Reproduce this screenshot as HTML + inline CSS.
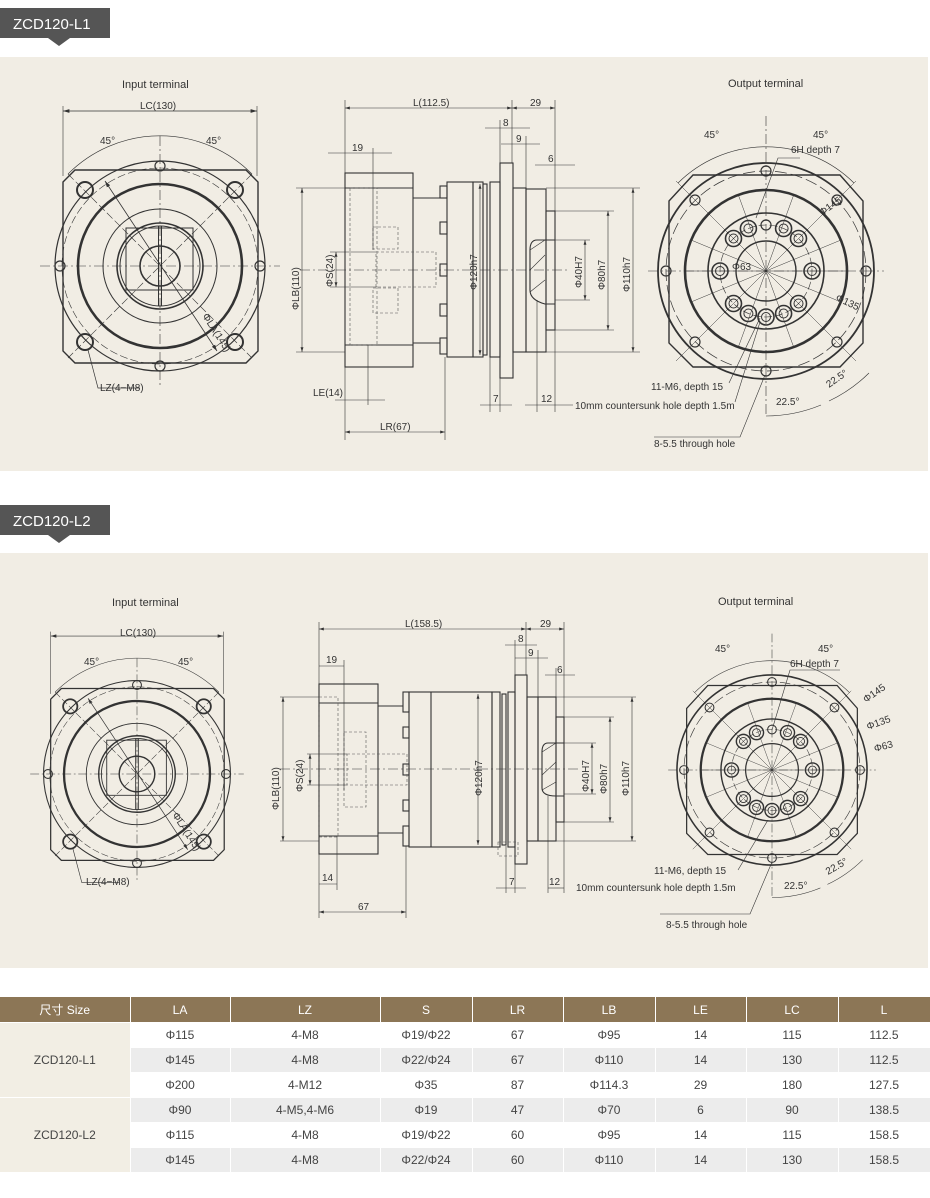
<!DOCTYPE html>
<html><head><meta charset="utf-8"><style>
body{margin:0;width:930px;height:1198px;background:#fff;position:relative;overflow:hidden;font-family:"Liberation Sans","Noto Sans CJK SC",sans-serif}
svg{position:absolute;left:0;top:0}
table{position:absolute;left:0;top:997px;width:930px;border-collapse:collapse;font-size:12px;color:#444;table-layout:fixed}
td,th{height:24px;text-align:center;padding:0;border-right:1px solid #fff;border-bottom:1px solid #fff;font-weight:normal;line-height:14px}
th{background:#8c7656;color:#fff;height:25px}
tr.g td{background:#ececec}
tr td.m,tr.g td.m{background:#f2eee4}
</style></head><body>
<svg width="930" height="997" viewBox="0 0 930 997" font-family="Liberation Sans, sans-serif">
<defs>
<marker id="a" viewBox="0 0 10 6" refX="10" refY="3" markerWidth="8" markerHeight="5" orient="auto-start-reverse"><path d="M0,0L10,3L0,6z" fill="#333"/></marker>
<g id="inp" fill="none" stroke="#333">
 <line x1="-97" y1="-155" x2="97" y2="-155" marker-start="url(#a)" marker-end="url(#a)" stroke-width=".8"/>
 <line x1="-97" y1="-160" x2="-97" y2="-90" stroke-width=".6"/><line x1="97" y1="-160" x2="97" y2="-90" stroke-width=".6"/>
 <path d="M-92,-92 A130,130 0 0 1 92,-92" stroke-width=".6"/>
 <path d="M-97,-84L-85,-96H86L98,-84V85L86,97H-85L-97,85Z" stroke-width="1.4"/>
 <circle r="105" stroke-width="1.2"/><circle r="82" stroke-width="2.6"/><circle r="57" stroke-width="1"/>
 <circle r="43" stroke-width="1.6"/><circle r="40" stroke-width="1"/><circle r="20" stroke-width="1.6"/>
 <path d="M-34,-38H33V24H-34Z" stroke-width="1"/>
 <line x1="-1.5" y1="-40" x2="-1.5" y2="40" stroke-width="1"/><line x1="1.5" y1="-40" x2="1.5" y2="40" stroke-width="1"/>
 <g stroke-width=".6" stroke-dasharray="10,3,2,3"><line x1="-120" y1="0" x2="120" y2="0"/><line x1="0" y1="-130" x2="0" y2="120"/></g>
 <g stroke-width=".6" stroke-dasharray="8,3"><circle r="98"/><line x1="-92" y1="-92" x2="92" y2="92"/><line x1="92" y1="-92" x2="-92" y2="92"/></g>
 <g stroke-width="2"><circle cx="-75" cy="-76" r="8"/><circle cx="75" cy="-76" r="8"/><circle cx="-75" cy="76" r="8"/><circle cx="75" cy="76" r="8"/></g>
 <g stroke-width="1.2"><circle cx="0" cy="-100" r="5"/><circle cx="0" cy="100" r="5"/><circle cx="-100" cy="0" r="5"/><circle cx="100" cy="0" r="5"/></g>
 <line x1="-55" y1="-85" x2="57" y2="85" stroke-width=".8" marker-start="url(#a)" marker-end="url(#a)"/>
 <path d="M-72,84L-62,122H-20" stroke-width=".7"/>
</g>
<g id="outp" fill="none" stroke="#333">
 <path d="M-97,-70L-73,-96H74L97,-70V72L74,96H-73L-97,72Z" stroke-width="1.4"/>
 <circle r="108" stroke-width="1.8"/><circle r="100" stroke-width=".7" stroke-dasharray="12,4"/><circle r="81" stroke-width="2.6"/><circle r="58" stroke-width="1.6"/><circle r="30" stroke-width="1.4"/><circle r="46" stroke-width=".6" stroke-dasharray="8,3"/>
 <g stroke-width=".6" stroke-dasharray="10,3,2,3"><line x1="-118" y1="0" x2="118" y2="0"/><line x1="0" y1="-155" x2="0" y2="145"/></g>
 <g stroke-width=".5"><line x1="-81" y1="0" x2="81" y2="0"/><line x1="-28" y1="-77" x2="28" y2="77"/><line x1="28" y1="-77" x2="-28" y2="77"/><line x1="-57" y1="-57" x2="57" y2="57"/><line x1="57" y1="-57" x2="-57" y2="57"/><line x1="-75" y1="-31" x2="75" y2="31"/><line x1="75" y1="-31" x2="-75" y2="31"/><line x1="-90" y1="-90" x2="90" y2="90"/><line x1="90" y1="-90" x2="-90" y2="90"/></g>
 <path d="M-88,-88A125,125 0 0 1 88,-88" stroke-width=".6"/>
 <g stroke-width="1.2"><circle cx="0" cy="-100" r="5"/><circle cx="0" cy="100" r="5"/><circle cx="-100" cy="0" r="5"/><circle cx="100" cy="0" r="5"/><circle cx="-71" cy="-71" r="5"/><circle cx="71" cy="-71" r="5"/><circle cx="-71" cy="71" r="5"/><circle cx="71" cy="71" r="5"/><circle cx="0" cy="-46" r="5"/></g>
 <g stroke-width="1.6"><circle cx="-17.6" cy="-42.5" r="8"/><circle cx="17.6" cy="-42.5" r="8"/><circle cx="-32.5" cy="-32.5" r="8"/><circle cx="32.5" cy="-32.5" r="8"/><circle cx="-46" cy="0" r="8"/><circle cx="46" cy="0" r="8"/><circle cx="-32.5" cy="32.5" r="8"/><circle cx="32.5" cy="32.5" r="8"/><circle cx="-17.6" cy="42.5" r="8"/><circle cx="17.6" cy="42.5" r="8"/><circle cx="0" cy="46" r="8"/></g>
 <g stroke-width="1"><circle cx="-17.6" cy="-42.5" r="4.5"/><circle cx="17.6" cy="-42.5" r="4.5"/><circle cx="-32.5" cy="-32.5" r="4.5"/><circle cx="32.5" cy="-32.5" r="4.5"/><circle cx="-46" cy="0" r="4.5"/><circle cx="46" cy="0" r="4.5"/><circle cx="-32.5" cy="32.5" r="4.5"/><circle cx="32.5" cy="32.5" r="4.5"/><circle cx="-17.6" cy="42.5" r="4.5"/><circle cx="17.6" cy="42.5" r="4.5"/><circle cx="0" cy="46" r="4.5"/></g>
 <path d="M0,145A145,145 0 0 0 55,134" stroke-width=".6"/><path d="M63,130A145,145 0 0 0 103,102" stroke-width=".6"/>
</g>
</defs>

<rect x="0" y="8" width="110" height="30" fill="#555"/><path d="M48,38H70L59,46Z" fill="#555"/>
<text x="13" y="29" fill="#fff" font-size="15">ZCD120-L1</text>
<rect x="0" y="57" width="928" height="414" fill="#f1ede4"/>
<g fill="#333" font-size="11"><text x="122" y="88">Input terminal</text><text x="728" y="87">Output terminal</text></g>
<use href="#inp" transform="translate(160,266)"/>
<g fill="#333" font-size="10"><text x="140" y="109">LC(130)</text><text x="100" y="144">45°</text><text x="206" y="144">45°</text><text x="100" y="391">LZ(4−M8)</text><text x="0" y="0" transform="translate(202,316) rotate(57)">ΦLA(145)</text></g>
<use href="#outp" transform="translate(766,271)"/>
<g fill="#333" font-size="10"><text x="704" y="138">45°</text><text x="813" y="138">45°</text><text x="791" y="153">6H depth 7</text><text x="732" y="270">Φ63</text><text x="822" y="216" transform="rotate(-35 822 216)">Φ145</text><text x="835" y="300" transform="rotate(25 835 300)">Φ135</text><text x="651" y="390">11-M6, depth 15</text><text x="575" y="409">10mm countersunk hole depth 1.5m</text><text x="654" y="447">8-5.5 through hole</text><text x="776" y="405">22.5°</text><text x="829" y="388" transform="rotate(-35 829 388)">22.5°</text></g>
<g fill="none" stroke="#333" stroke-width=".6"><path d="M756,218L778,158H800"/><path d="M729,383L760,318"/><path d="M735,402L760,322"/><path d="M654,437H740L765,375"/></g>
<g fill="none" stroke="#333" stroke-width="1.1">
 <rect x="345" y="173" width="68" height="194"/><line x1="345" y1="188" x2="413" y2="188"/><line x1="345" y1="345" x2="413" y2="345"/>
 <line x1="413" y1="198" x2="440" y2="198"/><line x1="413" y1="343" x2="440" y2="343"/>
 <rect x="440" y="186" width="7" height="12"/><rect x="440" y="222" width="7" height="12"/><rect x="440" y="264" width="7" height="12"/><rect x="440" y="304" width="7" height="12"/><rect x="440" y="338" width="7" height="16"/>
 <rect x="447" y="182" width="26" height="175"/><rect x="473" y="182" width="10" height="175"/><rect x="483" y="184" width="4" height="171"/><rect x="490" y="182" width="10" height="175"/>
 <rect x="500" y="163" width="13" height="215"/><rect x="513" y="188" width="13" height="164"/><rect x="526" y="189" width="20" height="163"/><rect x="546" y="211" width="9" height="119"/>
 <path d="M555,240H537Q530,240 530,250V290Q530,300 545,304H555" /><path d="M530,250L545,240M530,270L545,255M530,292L545,280" stroke-width=".6"/>
</g>
<g fill="none" stroke="#555" stroke-width=".6" stroke-dasharray="3,2"><rect x="350" y="188" width="27" height="157"/><rect x="373" y="227" width="25" height="22"/><rect x="373" y="288" width="25" height="25"/><rect x="376" y="252" width="60" height="35"/></g>
<g fill="none" stroke="#333" stroke-width=".6">
 <line x1="300" y1="270" x2="570" y2="270" stroke-dasharray="10,3,2,3"/>
 <line x1="345" y1="100" x2="345" y2="440"/><line x1="512" y1="100" x2="512" y2="163"/><line x1="555" y1="100" x2="555" y2="211"/>
 <line x1="345" y1="108" x2="512" y2="108" marker-start="url(#a)" marker-end="url(#a)"/><line x1="512" y1="108" x2="555" y2="108" marker-start="url(#a)" marker-end="url(#a)"/>
 <line x1="485" y1="128" x2="530" y2="128"/><line x1="500" y1="120" x2="500" y2="163"/><line x1="501" y1="144" x2="540" y2="144"/><line x1="526" y1="136" x2="526" y2="188"/><line x1="535" y1="165" x2="575" y2="165"/>
 <line x1="328" y1="153" x2="392" y2="153"/><line x1="373" y1="148" x2="373" y2="250"/>
 <line x1="296" y1="188" x2="345" y2="188"/><line x1="296" y1="352" x2="345" y2="352"/><line x1="302" y1="188" x2="302" y2="352" marker-start="url(#a)" marker-end="url(#a)"/>
 <line x1="330" y1="252" x2="376" y2="252"/><line x1="330" y1="287" x2="376" y2="287"/><line x1="336" y1="252" x2="336" y2="287" marker-start="url(#a)" marker-end="url(#a)"/>
 <line x1="480" y1="184" x2="480" y2="355" marker-start="url(#a)" marker-end="url(#a)"/>
 <line x1="555" y1="240" x2="590" y2="240"/><line x1="555" y1="300" x2="590" y2="300"/><line x1="585" y1="240" x2="585" y2="300" marker-start="url(#a)" marker-end="url(#a)"/>
 <line x1="555" y1="211" x2="614" y2="211"/><line x1="555" y1="330" x2="614" y2="330"/><line x1="608" y1="211" x2="608" y2="330" marker-start="url(#a)" marker-end="url(#a)"/>
 <line x1="546" y1="188" x2="640" y2="188"/><line x1="546" y1="352" x2="640" y2="352"/><line x1="633" y1="188" x2="633" y2="352" marker-start="url(#a)" marker-end="url(#a)"/>
 <line x1="335" y1="400" x2="385" y2="400"/><line x1="368" y1="345" x2="368" y2="405"/>
 <line x1="345" y1="432" x2="445" y2="432" marker-start="url(#a)" marker-end="url(#a)"/><line x1="445" y1="357" x2="445" y2="440"/>
 <line x1="480" y1="405" x2="512" y2="405"/><line x1="490" y1="357" x2="490" y2="412"/><line x1="500" y1="378" x2="500" y2="412"/>
 <line x1="525" y1="405" x2="573" y2="405"/><line x1="537" y1="300" x2="537" y2="412"/><line x1="555" y1="330" x2="555" y2="412"/>
</g>
<g fill="#333" font-size="10"><text x="413" y="106">L(112.5)</text><text x="530" y="106">29</text><text x="503" y="126">8</text><text x="516" y="142">9</text><text x="548" y="162">6</text><text x="352" y="151">19</text><text x="313" y="396">LE(14)</text><text x="380" y="430">LR(67)</text><text x="493" y="402">7</text><text x="541" y="402">12</text>
<text transform="translate(299,310) rotate(-90)">ΦLB(110)</text><text transform="translate(333,287) rotate(-90)">ΦS(24)</text><text transform="translate(477,290) rotate(-90)">Φ120h7</text><text transform="translate(582,288) rotate(-90)">Φ40H7</text><text transform="translate(605,290) rotate(-90)">Φ80h7</text><text transform="translate(630,292) rotate(-90)">Φ110h7</text></g>

<rect x="0" y="505" width="110" height="30" fill="#555"/><path d="M48,535H70L59,543Z" fill="#555"/>
<text x="13" y="526" fill="#fff" font-size="15">ZCD120-L2</text>
<rect x="0" y="553" width="928" height="415" fill="#f1ede4"/>
<g fill="#333" font-size="11"><text x="112" y="606">Input terminal</text><text x="718" y="605">Output terminal</text></g>
<use href="#inp" transform="translate(137,774) scale(0.89)"/>
<g fill="#333" font-size="10"><text x="120" y="636">LC(130)</text><text x="84" y="665">45°</text><text x="178" y="665">45°</text><text x="86" y="885">LZ(4−M8)</text><text transform="translate(172,815) rotate(57)">ΦLA(145)</text></g>
<use href="#outp" transform="translate(772,770) scale(0.88)"/>
<g fill="#333" font-size="10"><text x="715" y="652">45°</text><text x="818" y="652">45°</text><text x="790" y="667">6H depth 7</text><text x="866" y="703" transform="rotate(-35 866 703)">Φ145</text><text x="868" y="730" transform="rotate(-20 868 730)">Φ135</text><text x="875" y="752" transform="rotate(-15 875 752)">Φ63</text><text x="654" y="874">11-M6, depth 15</text><text x="576" y="891">10mm countersunk hole depth 1.5m</text><text x="666" y="928">8-5.5 through hole</text><text x="784" y="889">22.5°</text><text x="828" y="875" transform="rotate(-30 828 875)">22.5°</text></g>
<g fill="none" stroke="#333" stroke-width=".6"><path d="M772,730L790,670H840"/><path d="M738,870L768,820"/><path d="M660,914H750L772,862"/></g>
<g fill="none" stroke="#333" stroke-width="1.1">
 <rect x="319" y="684" width="59" height="170"/><line x1="319" y1="703" x2="378" y2="703"/><line x1="319" y1="836" x2="378" y2="836"/>
 <line x1="378" y1="706" x2="403" y2="706"/><line x1="378" y1="833" x2="403" y2="833"/>
 <rect x="403" y="692" width="6" height="20"/><rect x="403" y="727" width="6" height="11"/><rect x="403" y="764" width="6" height="11"/><rect x="403" y="800" width="6" height="11"/><rect x="403" y="826" width="6" height="20"/>
 <rect x="409" y="692" width="83" height="155"/><line x1="431" y1="692" x2="431" y2="847"/><rect x="492" y="692" width="8" height="155"/><rect x="502" y="694" width="4" height="151"/><rect x="508" y="692" width="7" height="155"/>
 <rect x="515" y="675" width="12" height="189"/><rect x="527" y="697" width="11" height="144"/><rect x="538" y="697" width="18" height="144"/><rect x="556" y="717" width="8" height="105"/>
 <path d="M564,743H548Q542,743 542,752V788Q542,796 556,796H564"/><path d="M542,752L556,743M542,775L556,762M542,790L556,782" stroke-width=".6"/>
</g>
<g fill="none" stroke="#555" stroke-width=".6" stroke-dasharray="3,2"><rect x="319" y="697" width="19" height="140"/><rect x="344" y="732" width="22" height="75"/><rect x="347" y="754" width="60" height="31"/><rect x="498" y="842" width="20" height="14"/></g>
<g fill="none" stroke="#333" stroke-width=".6">
 <line x1="280" y1="769" x2="580" y2="769" stroke-dasharray="10,3,2,3"/>
 <line x1="319" y1="622" x2="319" y2="918"/><line x1="526" y1="622" x2="526" y2="675"/><line x1="564" y1="622" x2="564" y2="717"/>
 <line x1="319" y1="629" x2="526" y2="629" marker-start="url(#a)" marker-end="url(#a)"/><line x1="526" y1="629" x2="564" y2="629" marker-start="url(#a)" marker-end="url(#a)"/>
 <line x1="505" y1="645" x2="537" y2="645"/><line x1="515" y1="640" x2="515" y2="675"/><line x1="515" y1="658" x2="548" y2="658"/><line x1="538" y1="650" x2="538" y2="697"/><line x1="545" y1="675" x2="575" y2="675"/><line x1="556" y1="668" x2="556" y2="717"/>
 <line x1="319" y1="666" x2="344" y2="666"/><line x1="344" y1="660" x2="344" y2="790"/>
 <line x1="280" y1="697" x2="319" y2="697"/><line x1="280" y1="841" x2="319" y2="841"/><line x1="283" y1="697" x2="283" y2="841" marker-start="url(#a)" marker-end="url(#a)"/>
 <line x1="307" y1="754" x2="347" y2="754"/><line x1="307" y1="785" x2="347" y2="785"/><line x1="310" y1="754" x2="310" y2="785" marker-start="url(#a)" marker-end="url(#a)"/>
 <line x1="478" y1="694" x2="478" y2="845" marker-start="url(#a)" marker-end="url(#a)"/>
 <line x1="564" y1="743" x2="596" y2="743"/><line x1="564" y1="794" x2="596" y2="794"/><line x1="592" y1="743" x2="592" y2="794" marker-start="url(#a)" marker-end="url(#a)"/>
 <line x1="564" y1="717" x2="614" y2="717"/><line x1="564" y1="822" x2="614" y2="822"/><line x1="610" y1="717" x2="610" y2="822" marker-start="url(#a)" marker-end="url(#a)"/>
 <line x1="556" y1="697" x2="636" y2="697"/><line x1="556" y1="841" x2="636" y2="841"/><line x1="632" y1="697" x2="632" y2="841" marker-start="url(#a)" marker-end="url(#a)"/>
 <line x1="319" y1="884" x2="337" y2="884"/><line x1="337" y1="836" x2="337" y2="890"/>
 <line x1="319" y1="912" x2="406" y2="912" marker-start="url(#a)" marker-end="url(#a)"/><line x1="406" y1="846" x2="406" y2="918"/>
 <line x1="496" y1="888" x2="526" y2="888"/><line x1="506" y1="846" x2="506" y2="893"/><line x1="515" y1="864" x2="515" y2="893"/>
 <line x1="548" y1="888" x2="564" y2="888"/><line x1="548" y1="796" x2="548" y2="893"/><line x1="564" y1="822" x2="564" y2="893"/>
</g>
<g fill="#333" font-size="10"><text x="405" y="627">L(158.5)</text><text x="540" y="627">29</text><text x="518" y="642">8</text><text x="528" y="656">9</text><text x="557" y="673">6</text><text x="326" y="663">19</text><text x="322" y="881">14</text><text x="358" y="910">67</text><text x="509" y="885">7</text><text x="549" y="885">12</text>
<text transform="translate(279,810) rotate(-90)">ΦLB(110)</text><text transform="translate(303,792) rotate(-90)">ΦS(24)</text><text transform="translate(482,796) rotate(-90)">Φ120h7</text><text transform="translate(589,792) rotate(-90)">Φ40H7</text><text transform="translate(607,794) rotate(-90)">Φ80h7</text><text transform="translate(629,796) rotate(-90)">Φ110h7</text></g>
</svg>
<table>
<colgroup><col style="width:130px"><col style="width:100px"><col style="width:150px"><col style="width:92px"><col style="width:91px"><col style="width:92px"><col style="width:91px"><col style="width:92px"><col style="width:92px"></colgroup>
<tr><th>尺寸 Size</th><th>LA</th><th>LZ</th><th>S</th><th>LR</th><th>LB</th><th>LE</th><th>LC</th><th>L</th></tr>
<tr><td class="m" rowspan="3">ZCD120-L1</td><td>Φ115</td><td>4-M8</td><td>Φ19/Φ22</td><td>67</td><td>Φ95</td><td>14</td><td>115</td><td>112.5</td></tr>
<tr class="g"><td>Φ145</td><td>4-M8</td><td>Φ22/Φ24</td><td>67</td><td>Φ110</td><td>14</td><td>130</td><td>112.5</td></tr>
<tr><td>Φ200</td><td>4-M12</td><td>Φ35</td><td>87</td><td>Φ114.3</td><td>29</td><td>180</td><td>127.5</td></tr>
<tr class="g"><td class="m" rowspan="3">ZCD120-L2</td><td>Φ90</td><td>4-M5,4-M6</td><td>Φ19</td><td>47</td><td>Φ70</td><td>6</td><td>90</td><td>138.5</td></tr>
<tr><td>Φ115</td><td>4-M8</td><td>Φ19/Φ22</td><td>60</td><td>Φ95</td><td>14</td><td>115</td><td>158.5</td></tr>
<tr class="g"><td>Φ145</td><td>4-M8</td><td>Φ22/Φ24</td><td>60</td><td>Φ110</td><td>14</td><td>130</td><td>158.5</td></tr>
</table>
</body></html>
